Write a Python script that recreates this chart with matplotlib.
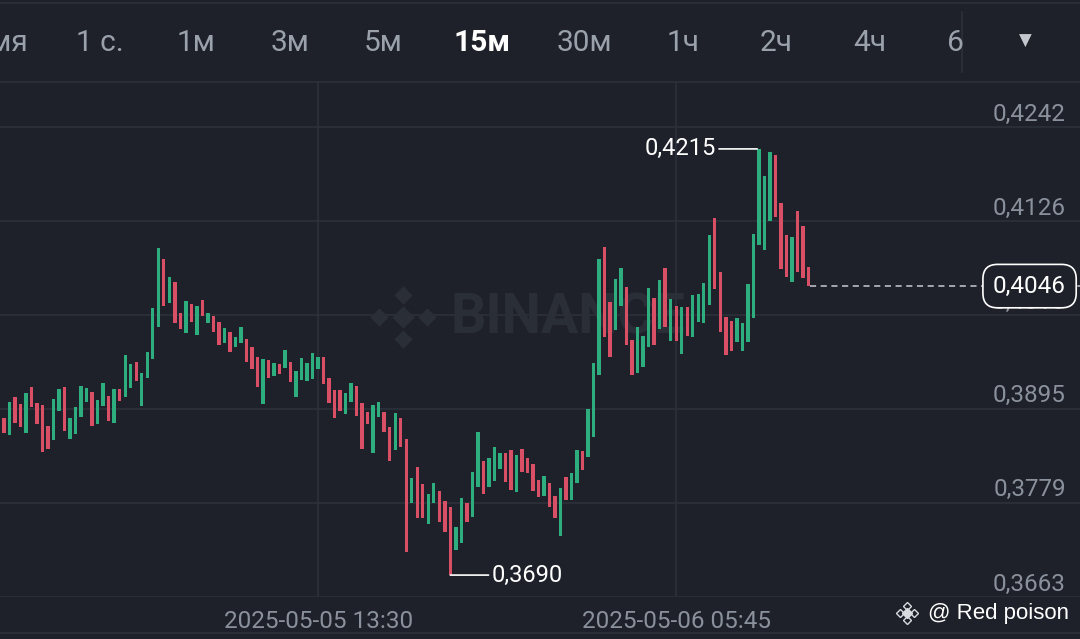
import matplotlib
matplotlib.use("Agg")
import matplotlib.pyplot as plt
import numpy as np
import pandas as pd
from matplotlib.lines import Line2D

# 15m candles (open / close only, wicks are not visible)
opens = [0.3884, 0.3863, 0.3909, 0.3901, 0.3865, 0.3922, 0.3902, 0.3900, 0.3874, 0.3856,
         0.3892, 0.3922, 0.3858, 0.3864, 0.3885, 0.3903, 0.3916, 0.3876, 0.3898, 0.3911,
         0.3877, 0.3919, 0.3909, 0.3921, 0.3953, 0.3898, 0.3933, 0.3956, 0.3996, 0.4079,
         0.4025, 0.4051, 0.4013, 0.3988, 0.4024, 0.3986, 0.4029, 0.4001, 0.4009, 0.4002,
         0.3976, 0.3990, 0.3971, 0.3976, 0.3981, 0.3971, 0.3959, 0.3901, 0.3955, 0.3935,
         0.3950, 0.3945, 0.3953, 0.3909, 0.3930, 0.3929, 0.3932, 0.3944, 0.3959, 0.3933,
         0.3918, 0.3918, 0.3888, 0.3903, 0.3923, 0.3902, 0.3891, 0.3840, 0.3885, 0.3891,
         0.3872, 0.3844, 0.3884, 0.3858, 0.3779, 0.3823, 0.3802, 0.3753, 0.3779, 0.3794,
         0.3781, 0.3774, 0.3721, 0.3730, 0.3779, 0.3762, 0.3799, 0.3831, 0.3799, 0.3806,
         0.3821, 0.3840, 0.3844, 0.3792, 0.3845, 0.3834, 0.3827, 0.3807, 0.3787, 0.3803,
         0.3787, 0.3738, 0.3811, 0.3782, 0.3803, 0.3843, 0.3835, 0.3860, 0.3936, 0.4094,
         0.4026, 0.3992, 0.4021, 0.4045, 0.3980, 0.3939, 0.3946, 0.3971, 0.4031, 0.3993,
         0.4068, 0.3978, 0.4021, 0.3962, 0.4020, 0.3983, 0.4002, 0.4001, 0.4023, 0.4130,
         0.4063, 0.4008, 0.4003, 0.3977, 0.3966, 0.3977, 0.4007, 0.4097, 0.4091, 0.4126,
         0.4208, 0.4148, 0.4109, 0.4051, 0.4139, 0.4120, 0.4070]
closes = [0.3865, 0.3903, 0.3877, 0.3872, 0.3914, 0.3897, 0.3876, 0.3842, 0.3845, 0.3907,
          0.3919, 0.3868, 0.3884, 0.3897, 0.3923, 0.3921, 0.3874, 0.3906, 0.3927, 0.3880,
          0.3919, 0.3904, 0.3961, 0.3950, 0.3929, 0.3939, 0.3965, 0.4019, 0.4093, 0.4021,
          0.4057, 0.4001, 0.3993, 0.4028, 0.4002, 0.4021, 0.4009, 0.4013, 0.3990, 0.3973,
          0.3994, 0.3965, 0.3983, 0.3996, 0.3953, 0.3944, 0.3922, 0.3956, 0.3933, 0.3951,
          0.3938, 0.3967, 0.3928, 0.3941, 0.3957, 0.3951, 0.3964, 0.3959, 0.3925, 0.3902,
          0.3884, 0.3892, 0.3914, 0.3927, 0.3886, 0.3845, 0.3876, 0.3900, 0.3903, 0.3866,
          0.3831, 0.3890, 0.3848, 0.3718, 0.3810, 0.3760, 0.3760, 0.3790, 0.3803, 0.3755,
          0.3743, 0.3690, 0.3749, 0.3785, 0.3755, 0.3817, 0.3866, 0.3790, 0.3834, 0.3848,
          0.3840, 0.3805, 0.3795, 0.3838, 0.3817, 0.3816, 0.3794, 0.3786, 0.3812, 0.3774,
          0.3760, 0.3797, 0.3782, 0.3816, 0.3844, 0.3819, 0.3895, 0.3951, 0.4079, 0.3983,
          0.3959, 0.4055, 0.4068, 0.3973, 0.3936, 0.3996, 0.3985, 0.4044, 0.3973, 0.4053,
          0.3996, 0.4030, 0.3978, 0.4020, 0.3985, 0.4035, 0.4036, 0.4050, 0.4109, 0.4042,
          0.3990, 0.3961, 0.3966, 0.4007, 0.4001, 0.4049, 0.4110, 0.4215, 0.4182, 0.4211,
          0.4131, 0.4067, 0.4057, 0.4106, 0.4063, 0.4056, 0.4046]
start_time = "2025-05-04 23:15"
price_ticks = [0.4242, 0.4126, 0.4010, 0.3895, 0.3779, 0.3663]
date_tick_idx = [57, 122]
intervals = ["Время", "1 с.", "1м", "3м", "5м", "15м", "30м", "1ч", "2ч", "4ч", "6"]
active_interval = "15м"

BG = "#1e2129"
GRID = "#2c3038"
GREEN = "#2eae7e"
RED = "#d94f65"
LABEL = "#8a919c"
WM = "#2a2e36"

plt.rcParams['font.family'] = ['Roboto', 'DejaVu Sans']

W, H = 1080, 639
def fx(x):
    return x / W
def fy(y):
    return 1 - y / H

fig = plt.figure(figsize=(10.8, 6.39), dpi=100, facecolor=BG)
ax = fig.add_axes([0, fy(597), 1, (597 - 82) / H])
ax.set_facecolor(BG)

opens = np.array(opens)
closes = np.array(closes)
idx = np.arange(len(opens))
times = pd.date_range(start_time, periods=len(opens), freq="15min")

# one candle every 5.51 px, first one 4 px from the left edge
step = 5.51
ax.set_xlim(-4 / step, -4 / step + W / step)
ax.set_ylim(0.3663, 0.4242 + 45 * (0.4242 - 0.3663) / 470)

# grid
for p in price_ticks:
    ax.axhline(p, color=GRID, lw=1.2, zorder=0)
for i in date_tick_idx:
    ax.axvline(i, color=GRID, lw=1.2, zorder=0)

# faint BINANCE watermark behind the candles
ax.text(fx(450), fy(318), "BINANCE", transform=fig.transFigure, color=WM,
        fontsize=40, fontweight="bold", ha="left", va="center", zorder=0.5)
for dx, dy, s in [(0, 0, 110), (-24, 0, 70), (24, 0, 70), (0, -22, 70), (0, 22, 70)]:
    ax.scatter([fx(403 + dx)], [fy(317 + dy)], transform=fig.transFigure, marker="D",
               s=s, color=WM, zorder=0.5, clip_on=False)

# candles
colors = np.where(closes >= opens, GREEN, RED)
ax.bar(idx, closes - opens, bottom=opens, width=0.62, color=colors, zorder=2)

for s in ax.spines.values():
    s.set_visible(False)
ax.set_xticks([])
ax.set_yticks([])

# high / low markers
hi_i = int(np.argmax(np.maximum(opens, closes)))
hi = max(opens[hi_i], closes[hi_i])
ax.annotate(f"{hi:.4f}".replace(".", ","), xy=(hi_i - 0.3, hi), xytext=(-41, 0),
            textcoords="offset pixels", ha="right", va="center", color="white", fontsize=17,
            arrowprops=dict(arrowstyle="-", color="white", lw=1.2, shrinkA=0, shrinkB=0),
            zorder=4)
lo_i = int(np.argmin(np.minimum(opens, closes)))
lo = min(opens[lo_i], closes[lo_i])
ax.annotate(f"{lo:.4f}".replace(".", ","), xy=(lo_i, lo), xytext=(41, 0),
            textcoords="offset pixels", ha="left", va="center", color="white", fontsize=17,
            arrowprops=dict(arrowstyle="-", color="white", lw=1.2, shrinkA=0, shrinkB=0),
            zorder=4, annotation_clip=False)

# last price dashed line
last = closes[-1]
ax.hlines(last, idx[-1] + 0.3, ax.get_xlim()[1], colors="#c8ccd2", lw=1.1,
          linestyles=(0, (4, 3)), zorder=3)

# price axis labels (drawn just above their grid line)
for p in price_ticks:
    ax.annotate(f"{p:.4f}".replace(".", ","), xy=(1, p), xycoords=("axes fraction", "data"),
                xytext=(-14, 13), textcoords="offset pixels", ha="right", va="center",
                color=LABEL, fontsize=17.5, annotation_clip=False)

# current price box
ax.annotate(f"{last:.4f}".replace(".", ","), xy=(1, last), xycoords=("axes fraction", "data"),
            xytext=(-14, 0), textcoords="offset pixels", ha="right", va="center",
            color="white", fontsize=17.5, zorder=6,
            bbox=dict(boxstyle="round,pad=0.42,rounding_size=0.6", fc=BG, ec="white", lw=1.2))

# date labels under the chart
for i in date_tick_idx:
    ax.annotate(times[i].strftime("%Y-%m-%d %H:%M"), xy=(i, 0), xycoords=("data", "axes fraction"),
                xytext=(0, -24), textcoords="offset pixels", ha="center", va="center",
                color=LABEL, fontsize=17.5, annotation_clip=False)

# toolbar on top
tool_x = [28, 100, 196, 290, 383, 482, 584, 683, 776, 870, 955]
for name, x in zip(intervals, tool_x):
    active = name == active_interval
    fig.text(fx(x), fy(43), name, ha="right" if name == "Время" else "center", va="center",
             fontsize=21.5, color="white" if active else "#9aa1ab",
             fontweight="bold" if active else "normal")
fig.text(fx(1025), fy(41), "▼", ha="center", va="center", fontsize=12, color="#c4c8ce",
         family="DejaVu Sans")
fig.add_artist(Line2D([0, 1], [fy(82), fy(82)], color=GRID, lw=1.2))
fig.add_artist(Line2D([fx(962), fx(962)], [fy(12), fy(72)], color=GRID, lw=1.2))
fig.add_artist(Line2D([0, 1], [fy(3), fy(3)], color=GRID, lw=1.2))
fig.add_artist(Line2D([0, 1], [fy(633), fy(633)], color=GRID, lw=1.2))

# bottom-right watermark
for dx, dy, s in [(0, 0, 14), (-7, 0, 10), (7, 0, 10), (0, -7, 10), (0, 7, 10)]:
    fig.add_artist(Line2D([fx(907 + dx)], [fy(613 + dy)], marker="D", markersize=s ** 0.5 + 1,
                          color="#d8dbe0", mfc="none" if (dx or dy) else "#d8dbe0"))
fig.text(fx(928), fy(613), "@ Red poison", ha="left", va="center", fontsize=16,
         color="white", family="Liberation Sans")

fig.savefig("out.png", dpi=100, facecolor=BG)
